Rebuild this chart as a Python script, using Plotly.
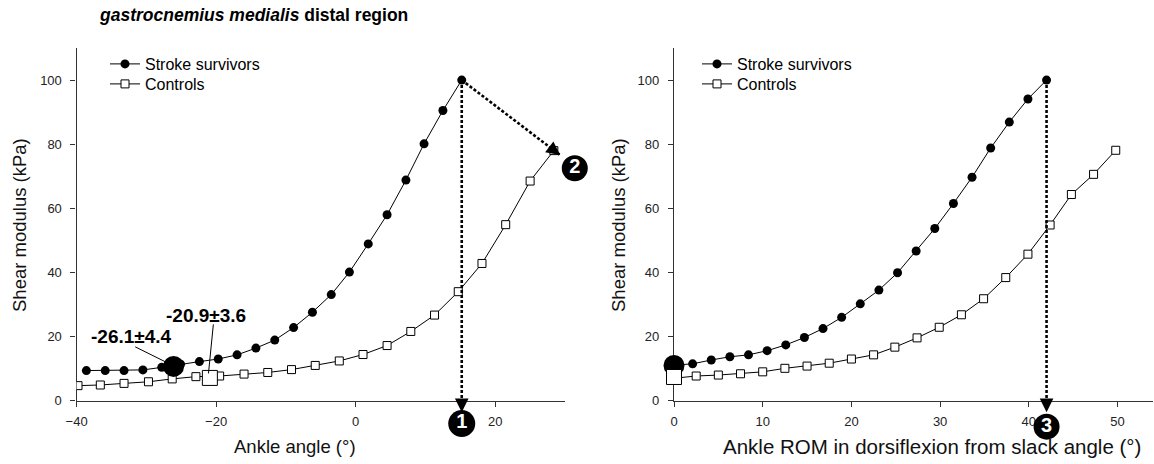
import plotly.graph_objects as go

# ---------------- data ----------------
stroke_angle = [-38.6, -35.9, -33.2, -30.5, -27.8, -25.1, -22.4, -19.7, -17.0, -14.3, -11.6,
                -8.9, -6.2, -3.5, -0.9, 1.8, 4.5, 7.2, 9.8, 12.5, 15.2]
stroke_sm_left = [9.4, 9.4, 9.4, 9.6, 10.4, 11.4, 12.2, 13.0, 14.3, 16.4, 18.9,
                  22.8, 27.6, 33.1, 40.1, 48.9, 58.0, 68.8, 80.1, 90.5, 100.0]

ctrl_angle = [-39.8, -36.6, -33.2, -29.7, -26.3, -22.9, -19.5, -16.0, -12.6, -9.2, -5.8,
              -2.35, 1.05, 4.5, 7.9, 11.3, 14.7, 18.1, 21.5, 25.0, 28.4]
ctrl_sm_left = [4.7, 4.9, 5.4, 5.9, 6.8, 7.5, 7.7, 8.3, 8.8, 9.7, 11.0,
                12.4, 14.4, 17.2, 21.6, 26.7, 34.0, 42.8, 54.9, 68.5, 78.0]

stroke_rom = [0, 2.1, 4.2, 6.3, 8.4, 10.5, 12.6, 14.7, 16.8, 18.9, 21.0,
              23.1, 25.2, 27.3, 29.4, 31.5, 33.6, 35.7, 37.8, 39.9, 42.0]
stroke_sm_right = [11.1, 11.5, 12.7, 13.7, 14.3, 15.6, 17.4, 19.7, 22.5, 26.0, 30.2,
                   34.5, 39.9, 46.7, 53.7, 61.5, 69.7, 78.8, 86.9, 94.1, 100.0]

ctrl_rom = [0, 2.5, 5.0, 7.5, 10.0, 12.5, 15.0, 17.5, 20.0, 22.5, 24.9,
            27.4, 29.9, 32.4, 34.9, 37.4, 39.9, 42.4, 44.8, 47.3, 49.8]
ctrl_sm_right = [7.0, 7.7, 8.0, 8.4, 9.0, 10.1, 10.8, 11.7, 13.0, 14.3, 16.7,
                 19.6, 22.9, 26.8, 31.8, 38.4, 45.7, 54.8, 64.3, 70.6, 78.1]

# slack angle points (mean values)
slack_stroke_left = (-26.1, 10.7)
slack_ctrl_left = (-20.9, 7.1)
slack_stroke_right = (0.0, 11.0)
slack_ctrl_right = (0.0, 7.4)
slack_labels = ["-26.1±4.4", "-20.9±3.6"]

left_xticks = [-40, -20, 0, 20]
right_xticks = [0, 10, 20, 30, 40, 50]
yticks = [0, 20, 40, 60, 80, 100]

series_names = ["Stroke survivors", "Controls"]

# ---------------- layout geometry ----------------
FONT = "Liberation Sans, Arial, Helvetica, sans-serif"
W, H = 1154, 464
AX = "#333333"

LX_RANGE = [-40, 30]
RX_RANGE = [0, 54]
Y_RANGE = [0, 110]
LX_DOM = [76.6 / W, 565 / W]
RX_DOM = [674 / W, 1153 / W]
Y_DOM = [1 - 400.7 / H, 1 - 48 / H]


def full_range(rng, dom):
    """Range of an invisible axis spanning the whole figure with the same scale."""
    span = (rng[1] - rng[0]) / (dom[1] - dom[0])
    return [rng[0] - dom[0] * span, rng[1] + (1 - dom[1]) * span]


fig = go.Figure()


def add_panel(xa, ya, legs, sx, sy, cx, cy, slack_s, slack_c):
    fig.add_trace(go.Scatter(x=cx, y=cy, mode="lines+markers", name=series_names[1],
                             xaxis=xa, yaxis=ya, legend=legs[1],
                             line=dict(color="black", width=1),
                             marker=dict(symbol="square", size=8, color="white",
                                         line=dict(color="black", width=1))))
    fig.add_trace(go.Scatter(x=sx, y=sy, mode="lines+markers", name=series_names[0],
                             xaxis=xa, yaxis=ya, legend=legs[0],
                             line=dict(color="black", width=1),
                             marker=dict(symbol="circle", size=9, color="black")))
    fig.add_trace(go.Scatter(x=[slack_s[0]], y=[slack_s[1]], mode="markers", showlegend=False,
                             xaxis=xa, yaxis=ya, cliponaxis=False,
                             marker=dict(symbol="circle", size=21, color="black")))
    fig.add_trace(go.Scatter(x=[slack_c[0]], y=[slack_c[1]], mode="markers", showlegend=False,
                             xaxis=xa, yaxis=ya, cliponaxis=False,
                             marker=dict(symbol="square", size=15, color="white",
                                         line=dict(color="black", width=1))))


add_panel("x", "y", ("legend", "legend2"), stroke_angle, stroke_sm_left, ctrl_angle, ctrl_sm_left,
          slack_stroke_left, slack_ctrl_left)
add_panel("x2", "y2", ("legend3", "legend4"), stroke_rom, stroke_sm_right, ctrl_rom, ctrl_sm_right,
          slack_stroke_right, slack_ctrl_right)

DOT = "3px,2px"
peak_x, peak_y = stroke_angle[-1], stroke_sm_left[-1]
peak_rx, peak_ry = stroke_rom[-1], stroke_sm_right[-1]
tip2 = (29.3, 76.6)
tip_y1 = -3.6

# dotted arrows (shafts)
fig.add_trace(go.Scatter(x=[peak_x, peak_x], y=[peak_y, 0], mode="lines", showlegend=False,
                         xaxis="x", yaxis="y", line=dict(color="black", width=2.6, dash=DOT)))
fig.add_trace(go.Scatter(x=[peak_x, tip2[0]], y=[peak_y, tip2[1]], mode="lines", showlegend=False,
                         xaxis="x", yaxis="y", line=dict(color="black", width=2.6, dash=DOT)))
fig.add_trace(go.Scatter(x=[peak_rx, peak_rx], y=[peak_ry, 0], mode="lines", showlegend=False,
                         xaxis="x2", yaxis="y2", line=dict(color="black", width=2.6, dash=DOT)))

# leader lines for the slack-angle labels
leader1 = ([-31.6, -26.6], [16.8, 11.4])
leader2 = ([-20.4, -21.1], [23.8, 8.5])
for lx, ly in (leader1, leader2):
    fig.add_trace(go.Scatter(x=lx, y=ly, mode="lines", showlegend=False, xaxis="x", yaxis="y",
                             line=dict(color="black", width=1)))

# numbered black circles (on full-figure overlay axes so they may sit outside the plot areas)
badges = [("x3", peak_x, -7.1, "1", 27), ("x3", 31.4, 72.5, "2", 26),
          ("x4", peak_rx, -8.1, "3", 26)]
for xa, bx, by, txt, sz in badges:
    fig.add_trace(go.Scatter(x=[bx], y=[by], mode="markers+text", text=[f"<b>{txt}</b>"],
                             textposition="middle center", showlegend=False,
                             xaxis=xa, yaxis="y3", cliponaxis=False, hoverinfo="skip",
                             textfont=dict(family=FONT, size=20, color="white"),
                             marker=dict(symbol="circle", size=sz, color="black")))

annotations = []
# arrowheads
for xr, tx in (("x3", peak_x), ("x4", peak_rx)):
    annotations.append(dict(x=tx, y=tip_y1, xref=xr, yref="y3", ax=0, ay=-14, text="",
                            showarrow=True, arrowhead=2, arrowsize=1.05, arrowwidth=2.6,
                            arrowcolor="black", standoff=0))
frac = 0.12
annotations.append(dict(x=tip2[0], y=tip2[1], xref="x3", yref="y3", axref="x3", ayref="y3",
                        ax=tip2[0] - frac * (tip2[0] - peak_x), ay=tip2[1] - frac * (tip2[1] - peak_y),
                        text="", showarrow=True, arrowhead=2, arrowsize=1.05, arrowwidth=2.6,
                        arrowcolor="black", standoff=0))

# slack angle labels
annotations.append(dict(x=-32.2, y=20.0, xref="x", yref="y", text=f"<b>{slack_labels[0]}</b>",
                        showarrow=False, font=dict(family=FONT, size=19, color="black")))
annotations.append(dict(x=-21.5, y=26.6, xref="x", yref="y", text=f"<b>{slack_labels[1]}</b>",
                        showarrow=False, font=dict(family=FONT, size=19, color="black")))

# title
annotations.append(dict(x=96.5 / W, y=1 - 15 / H, xref="paper", yref="paper", xanchor="left",
                        yanchor="middle", showarrow=False,
                        text="<b><i>gastrocnemius medialis</i> distal region</b>",
                        font=dict(family=FONT, size=17.5, color="black")))
# axis titles
annotations.append(dict(x=295 / W, y=1 - 446 / H, xref="paper", yref="paper", showarrow=False,
                        xanchor="center", yanchor="middle",
                        text="Ankle angle (°)", font=dict(family=FONT, size=18.5, color="#111")))
annotations.append(dict(x=932 / W, y=1 - 446 / H, xref="paper", yref="paper", showarrow=False,
                        xanchor="center", yanchor="middle",
                        text="Ankle ROM in dorsiflexion from slack angle (°)",
                        font=dict(family=FONT, size=20.5, color="#111")))
for xp in (19, 618):
    annotations.append(dict(x=xp / W, y=1 - 225 / H, xref="paper", yref="paper", showarrow=False,
                            xanchor="center", yanchor="middle",
                            text="Shear modulus (kPa)", textangle=-90,
                            font=dict(family=FONT, size=18.5, color="#111")))

common_axis = dict(showline=True, linecolor=AX, linewidth=1.3, ticks="outside", ticklen=5,
                   tickcolor=AX, tickwidth=1.2, showgrid=False, zeroline=False,
                   tickfont=dict(family=FONT, size=13, color="#222"), layer="below traces",
                   automargin=False)
hidden_axis = dict(visible=False, showgrid=False, zeroline=False, automargin=False, fixedrange=True)


def legend_at(xpx, ypx):
    return dict(x=xpx / W, xanchor="left", y=1 - ypx / H, yanchor="middle",
                font=dict(family=FONT, size=16, color="black"), bgcolor="rgba(0,0,0,0)",
                borderwidth=0)


fig.update_layout(
    width=W, height=H, margin=dict(l=0, r=0, t=0, b=0, pad=0), autosize=False,
    paper_bgcolor="white", plot_bgcolor="rgba(0,0,0,0)",
    font=dict(family=FONT, color="black"),
    xaxis=dict(domain=LX_DOM, range=LX_RANGE, tickvals=left_xticks, anchor="y",
               ticklabelstandoff=4, **common_axis),
    yaxis=dict(domain=Y_DOM, range=Y_RANGE, tickvals=yticks, anchor="x",
               ticklabelstandoff=6, **common_axis),
    xaxis2=dict(domain=RX_DOM, range=RX_RANGE, tickvals=right_xticks, anchor="y2",
                ticklabelstandoff=4, **common_axis),
    yaxis2=dict(domain=Y_DOM, range=Y_RANGE, tickvals=yticks, anchor="x2",
                ticklabelstandoff=6, **common_axis),
    xaxis3=dict(domain=[0, 1], range=full_range(LX_RANGE, LX_DOM), anchor="y3", **hidden_axis),
    xaxis4=dict(domain=[0, 1], range=full_range(RX_RANGE, RX_DOM), anchor="y3", **hidden_axis),
    yaxis3=dict(domain=[0, 1], range=full_range(Y_RANGE, Y_DOM), anchor="x3", **hidden_axis),
    legend=legend_at(105, 64),
    legend2=legend_at(105, 84),
    legend3=legend_at(697, 64),
    legend4=legend_at(697, 84),
    annotations=annotations,
    showlegend=True,
)

fig.write_html("out.html", config={"displayModeBar": False},
               post_script="document.body.style.margin='0';")
